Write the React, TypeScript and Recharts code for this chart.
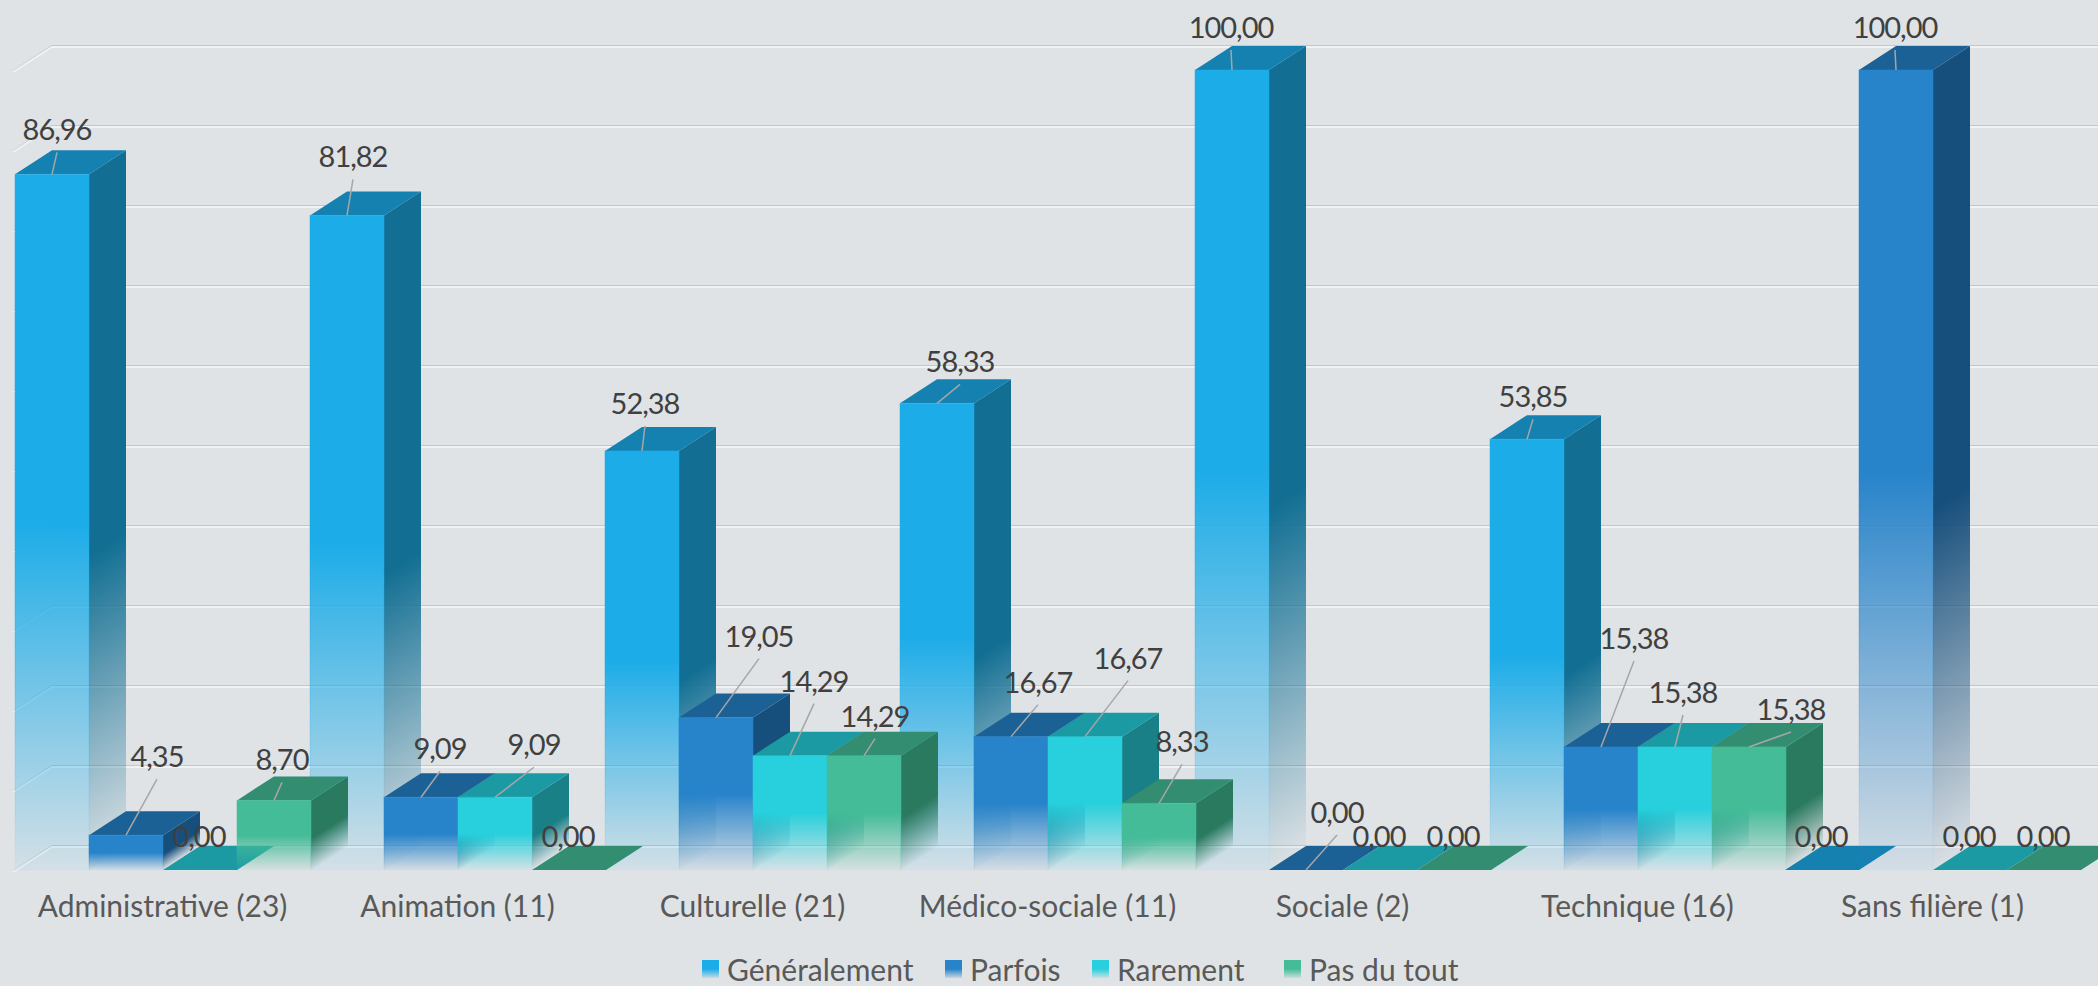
import { BarChart, Bar, XAxis, YAxis, CartesianGrid, LabelList } from "recharts";

const categories = [
  "Administrative (23)",
  "Animation (11)",
  "Culturelle (21)",
  "Médico-sociale (11)",
  "Sociale (2)",
  "Technique (16)",
  "Sans filière (1)",
];
const generalement = [86.96, 81.82, 52.38, 58.33, 100, 53.85, 0];
const parfois = [4.35, 9.09, 19.05, 16.67, 0, 15.38, 100];
const rarement = [0, 9.09, 14.29, 16.67, 0, 15.38, 0];
const pasDuTout = [8.7, 0, 14.29, 8.33, 0, 15.38, 0];
const seriesNames = ["Généralement", "Parfois", "Rarement", "Pas du tout"];
const gridTicks = [0, 10, 20, 30, 40, 50, 60, 70, 80, 90, 100];

const seriesValues = [generalement, parfois, rarement, pasDuTout];
const chartData = categories.map((name, i) => ({
  name,
  s0: generalement[i],
  s1: parfois[i],
  s2: rarement[i],
  s3: pasDuTout[i],
}));

// face colours per series
const frontColors = ["#1CACE8", "#2783CA", "#27D0DC", "#44BC98"];
const sideColors = ["#126F93", "#174F7C", "#1A8087", "#2A7A60"];
const topColors = ["#1481B0", "#1C6195", "#1C9AA3", "#338D70"];

// end of each leader line, relative to the top centre of the bar: [series][category]
const leaderEnds = [
  [[5, -22], [6, -36], [3, -25], [23, -19], [-1, -20], [6, -20], [-1, -11]],
  [[31, -56], [19, -26], [43, -59], [27, -32], [31, -35], [33, -86], [-1, -20]],
  [[-1, -11], [39, -30], [24, -52], [43, -56], [-1, -11], [8, -32], [-1, -11]],
  [[8, -18], [-1, -11], [11, -17], [23, -39], [-1, -11], [42, -15], [-1, -11]],
];

const legendLefts = [702, 945, 1092, 1284];

const WIDTH = 2098;
const HEIGHT = 986;
const DEPTH_X = 37;
const DEPTH_Y = 24;
const SKEW = (-Math.atan(DEPTH_Y / DEPTH_X) * 180) / Math.PI;
const FONT = "Lato, 'Open Sans', sans-serif";
const chartMargin = { top: 70, right: 18, bottom: 76, left: 15 };
// the label pass hides its x axis, so the axis height goes back into the margin
const labelMargin = { top: 70, right: 18, bottom: 116, left: 15 };

const formatValue = (v: number) => v.toFixed(2).replace(".", ",");

function Box3D(props: any) {
  const { x, y, width, height, series } = props;
  const front = `url(#front-${series})`;
  const side = `url(#side-${series})`;
  return (
    <g>
      {height > 0 && (
        <rect
          x={0}
          y={0}
          width={DEPTH_X}
          height={height}
          fill={side}
          transform={`translate(${x + width},${y}) skewY(${SKEW})`}
        />
      )}
      <polygon
        points={`${x},${y} ${x + width},${y} ${x + width + DEPTH_X},${y - DEPTH_Y} ${x + DEPTH_X},${y - DEPTH_Y}`}
        fill={topColors[series]}
      />
      {height > 0 && (
        <rect x={x} y={y} width={width} height={height} fill={front} stroke={front} strokeOpacity={0.5} />
      )}
    </g>
  );
}

function LeaderLabel(props: any) {
  const { x, y, width, value, index, series } = props;
  const [dx, dy] = leaderEnds[series][index];
  const cx = x + width / 2;
  const showLine = Math.hypot(dx, dy) > 14;
  return (
    <g>
      {showLine && <line x1={cx} y1={y} x2={cx + dx} y2={y + dy} stroke="#A6A6A6" strokeWidth={1.5} />}
      <text
        x={cx + dx}
        y={y + dy - 12}
        textAnchor="middle"
        fontFamily={FONT}
        fontSize={29}
        letterSpacing={-1}
        fill="#404040"
      >
        {formatValue(Number(value))}
      </text>
    </g>
  );
}

function GridLine(props: any) {
  const { x1, x2, y1 } = props;
  const backY = y1 - DEPTH_Y;
  const backX = x1 + DEPTH_X;
  return (
    <g fill="none">
      <polyline points={`${x1 - 2},${y1 + 1} ${backX},${backY - 0.5} ${x2 + DEPTH_X},${backY - 0.5}`} stroke="#C4C7CA" strokeWidth={1.2} />
      <polyline points={`${x1 - 2},${y1 + 2} ${backX},${backY + 1} ${x2 + DEPTH_X},${backY + 1}`} stroke="#F0F2F3" strokeWidth={2} />
    </g>
  );
}

export default function App() {
  return (
    <div style={{ position: "absolute", left: 0, top: 0, width: WIDTH, height: HEIGHT, background: "#DFE3E6", overflow: "hidden" }}>
      <div style={{ position: "absolute", left: 0, top: 0 }}>
        <BarChart width={WIDTH} height={HEIGHT} data={chartData} margin={chartMargin} barCategoryGap={0} barGap={0}>
          <defs>
            {frontColors.map((color, i) => (
              <linearGradient key={i} id={`front-${i}`} x1="0" y1="0" x2="0" y2="1">
                <stop offset="0" stopColor={color} stopOpacity={1} />
                <stop offset="0.5" stopColor={color} stopOpacity={1} />
                <stop offset="1" stopColor={color} stopOpacity={0.06} />
              </linearGradient>
            ))}
            {sideColors.map((color, i) => (
              <linearGradient key={i} id={`side-${i}`} x1="0" y1="0" x2="0" y2="1">
                <stop offset="0" stopColor={color} stopOpacity={1} />
                <stop offset="0.55" stopColor={color} stopOpacity={1} />
                <stop offset="1" stopColor={color} stopOpacity={0.03} />
              </linearGradient>
            ))}
          </defs>
          <CartesianGrid vertical={false} horizontal={(p: any) => <GridLine key={p.key} {...p} />} />
          <XAxis
            dataKey="name"
            interval={0}
            height={40}
            axisLine={false}
            tickLine={false}
            tickMargin={20}
            tick={{ fontFamily: FONT, fontSize: 30, fill: "#595959" }}
          />
          <YAxis hide domain={[0, 100]} ticks={gridTicks} />
          {seriesValues.map((_, i) => (
            <Bar
              key={i}
              dataKey={`s${i}`}
              isAnimationActive={false}
              shape={(p: any) => <Box3D {...p} series={i} />}
            />
          ))}
        </BarChart>
      </div>

      {/* second pass so every label sits above all the boxes */}
      <div style={{ position: "absolute", left: 0, top: 0 }}>
        <BarChart width={WIDTH} height={HEIGHT} data={chartData} margin={labelMargin} barCategoryGap={0} barGap={0}>
          <XAxis dataKey="name" hide />
          <YAxis hide domain={[0, 100]} />
          {seriesValues.map((_, i) => (
            <Bar key={i} dataKey={`s${i}`} isAnimationActive={false} shape={() => <g />}>
              <LabelList dataKey={`s${i}`} content={(p: any) => <LeaderLabel {...p} series={i} />} />
            </Bar>
          ))}
        </BarChart>
      </div>

      {seriesNames.map((name, i) => (
        <div
          key={name}
          style={{ position: "absolute", left: legendLefts[i], top: 954, height: 30, lineHeight: "30px", display: "flex", alignItems: "center", fontFamily: FONT, fontSize: 30, color: "#595959", whiteSpace: "nowrap" }}
        >
          <span
            style={{
              display: "inline-block",
              width: 17,
              height: 18,
              marginRight: 8,
              background: `linear-gradient(${frontColors[i]} 50%, ${frontColors[i]}22)`,
            }}
          />
          {name}
        </div>
      ))}
    </div>
  );
}
